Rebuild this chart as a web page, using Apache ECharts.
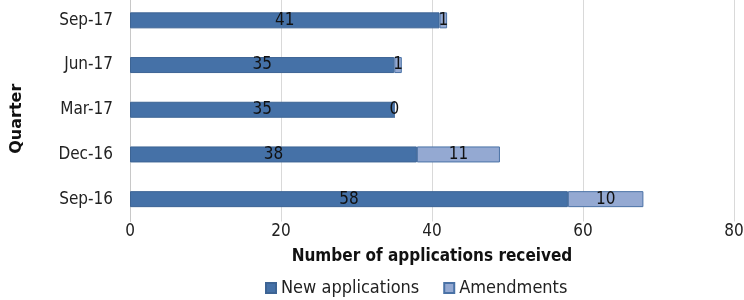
<!DOCTYPE html>
<html>
<head>
<meta charset="utf-8">
<script src="https://cdn.jsdelivr.net/npm/echarts@6/dist/echarts.min.js"></script>
<style>
  html, body { margin: 0; padding: 0; background: #fff; }
  #chart { width: 744px; height: 300px; }
</style>
</head>
<body>
<div id="chart"></div>
<script>
const quarters = ['Sep-16', 'Dec-16', 'Mar-17', 'Jun-17', 'Sep-17']
const newApplications = [58, 38, 35, 35, 41]
const amendments = [10, 11, 0, 1, 1]
const xTicks = [0, 20, 40, 60, 80]

const font = "'DejaVu Sans Condensed', 'Liberation Sans Narrow', sans-serif"

const chart = echarts.init(document.getElementById('chart'))

const option = {
  animation: false,
  textStyle: { fontFamily: font },
  grid: {
    left: 130,
    right: 10,
    top: -2,
    height: 223.5,
    outerBoundsMode: 'none'
  },
  legend: {
    top: 279,
    left: 265,
    padding: 0,
    itemWidth: 10,
    itemHeight: 10,
    itemGap: 24,
    icon: 'rect',
    textStyle: { fontFamily: font, fontSize: 18, color: '#222' },
    data: ['New applications', 'Amendments']
  },
  xAxis: {
    type: 'value',
    min: xTicks[0],
    max: xTicks[xTicks.length - 1],
    interval: 20,
    name: 'Number of applications received',
    nameLocation: 'middle',
    nameGap: 27,
    nameTextStyle: {
      fontFamily: font,
      fontWeight: 'bold',
      fontSize: 17,
      color: '#111'
    },
    axisLine: { show: false },
    axisTick: { show: false },
    axisLabel: { color: '#222', fontSize: 17, margin: 2 },
    splitLine: { lineStyle: { color: '#d9d9d9', width: 1 } }
  },
  yAxis: {
    type: 'category',
    data: quarters,
    name: 'Quarter',
    nameLocation: 'middle',
    nameGap: 105,
    nameRotate: 90,
    nameTextStyle: {
      fontFamily: 'DejaVu Sans, sans-serif',
      fontWeight: 'bold',
      fontSize: 16,
      color: '#111',
      padding: [0, 18, 0, 0]
    },
    axisLine: { show: true, lineStyle: { color: '#c8c8c8' } },
    axisTick: { show: false },
    axisLabel: { color: '#222', fontSize: 17, margin: 17 }
  },
  series: [
    {
      name: 'New applications',
      type: 'bar',
      stack: 'total',
      barWidth: 16,
      data: newApplications,
      itemStyle: { color: '#4571a7', borderColor: '#3d6494', borderWidth: 1 },
      label: {
        show: true,
        position: 'inside',
        color: '#111',
        fontSize: 17,
        fontFamily: font
      }
    },
    {
      name: 'Amendments',
      type: 'bar',
      stack: 'total',
      barWidth: 16,
      data: amendments,
      itemStyle: { color: '#94a9d2', borderColor: '#4a72a6', borderWidth: 1 },
      label: {
        show: true,
        position: 'inside',
        color: '#111',
        fontSize: 17,
        fontFamily: font
      }
    }
  ]
}

chart.setOption(option)
</script>
</body>
</html>
